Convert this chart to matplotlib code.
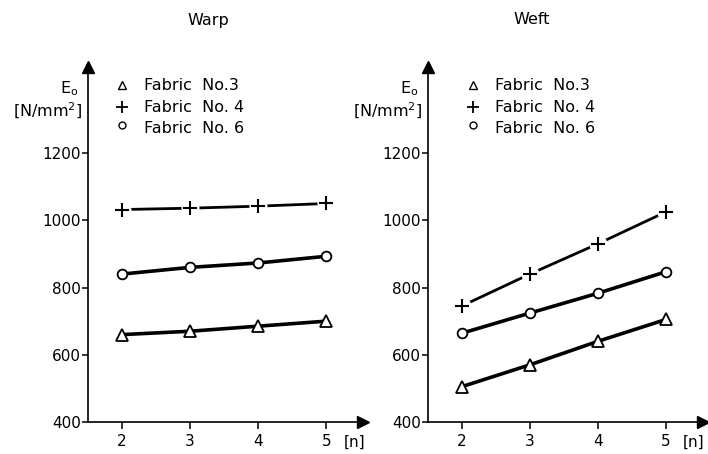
import matplotlib
matplotlib.use('Agg')
import matplotlib.pyplot as plt

plt.rcParams['font.family'] = 'DejaVu Sans'
plt.rcParams['font.size'] = 11

# number of layers n and initial modulus E0 [N/mm2]
n = [2, 3, 4, 5]
warp_no3 = [660, 670, 685, 700]
warp_no4 = [1032, 1036, 1042, 1050]
warp_no6 = [840, 860, 873, 893]
weft_no3 = [505, 570, 640, 705]
weft_no4 = [745, 840, 930, 1025]
weft_no6 = [664, 724, 783, 847]

yticks = [400, 600, 800, 1000, 1200]
legend_labels = ['Fabric  No.3', 'Fabric  No. 4', 'Fabric  No. 6']

W, H = 708, 454
fig = plt.figure(figsize=(W / 100, H / 100), dpi=100)


def panel(left_px, title, title_px, key_px, no3, no4, no6):
    ax = fig.add_axes([left_px / W, 32 / H, 275 / W, 355 / H])
    ax.set_xlim(1.5, 5.54)
    ax.set_ylim(400, 1456)
    for s in ['top', 'right']:
        ax.spines[s].set_visible(False)
    for s in ['left', 'bottom']:
        ax.spines[s].set_linewidth(1.2)
    ax.set_xticks(n)
    ax.set_yticks(yticks)
    ax.tick_params(axis='y', direction='out', length=4, width=1.1, pad=1)
    ax.tick_params(axis='x', direction='out', length=5, width=1.1, pad=4)

    # arrow heads on the axes
    ax.plot(0, 1, '^k', ms=8, transform=ax.transAxes, clip_on=False)
    ax.plot(1, 0, '>k', ms=8, transform=ax.transAxes, clip_on=False)

    # Fabric No. 4: line broken around the markers
    ax.plot(n, no4, '-', color='k', lw=2.0, zorder=2)
    ax.plot(n, no4, 'o', ms=12, mfc='white', mec='white', zorder=3)
    ax.plot(n, no4, '+', ms=10, mew=1.5, color='k', zorder=4)
    # Fabric No. 6 and No. 3
    ax.plot(n, no6, '-o', color='k', lw=2.6, ms=7, mfc='white', mew=1.3, zorder=3)
    ax.plot(n, no3, '-^', color='k', lw=2.6, ms=8, mfc='white', mew=1.3, zorder=3)

    # key
    kx = (key_px - left_px) / 275
    mk = [('^', 6, 1.0), ('+', 9, 1.3), ('o', 5, 1.0)]
    for i, (lbl, (m, s, w)) in enumerate(zip(legend_labels, mk)):
        y = 0.948 - i * 0.061
        ax.plot(kx, y + (0.012 if m == 'o' else 0), m, ms=s, mew=w, mfc='white', mec='k',
                transform=ax.transAxes, clip_on=False)
        ax.text(kx + 0.08, y, lbl, transform=ax.transAxes, va='center', ha='left', fontsize=11.5)

    ax.text(-0.035, 0.94, r'E$_\mathrm{o}$', transform=ax.transAxes, ha='right', va='center',
            fontsize=11.5)
    ax.text(-0.02, 0.875, r'[N/mm$^2$]', transform=ax.transAxes, ha='right', va='center',
            fontsize=11.5)
    ax.text(5.25, -0.058, '[n]', transform=ax.get_xaxis_transform(), ha='left', va='center',
            fontsize=11)
    fig.text(title_px / W, 1 - 20 / H, title, ha='center', va='center', fontsize=11.5)
    return ax


panel(88, 'Warp', 208, 122, warp_no3, warp_no4, warp_no6)
panel(427.7, 'Weft', 532, 473, weft_no3, weft_no4, weft_no6)

fig.savefig('out.png', dpi=100)
